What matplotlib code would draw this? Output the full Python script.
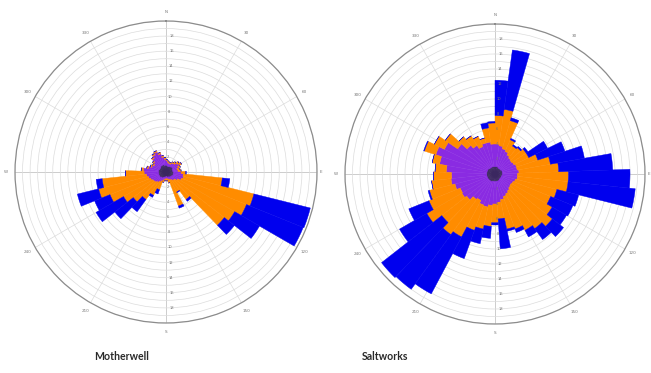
import numpy as np
import matplotlib
matplotlib.use("Agg")
import matplotlib.pyplot as plt

# Direction sectors: 45 sectors of 8 degrees, clockwise from north
sector_width = 8
sector_starts = np.arange(0, 360, sector_width)

station_names = ["Motherwell", "Saltworks"]
class_colors = ["#3b2760", "#8a2be2", "#ff8c00", "#0000ee"]

# Frequency (%) per direction sector for each wind-speed class
motherwell_calm = [0.9, 0.8, 0.8, 0.8, 0.9, 0.9, 1.0, 1.0, 0.9, 0.9, 0.9, 1.0, 1.0, 1.0, 1.0,
                   0.9, 0.9, 0.8, 0.8, 0.7, 0.7, 0.6, 0.6, 0.7, 0.7, 0.8, 0.9, 0.9, 1.0, 1.0,
                   1.0, 1.0, 1.0, 1.0, 1.0, 1.0, 0.9, 0.9, 0.9, 1.0, 1.0, 1.0, 1.0, 0.9, 0.9]
motherwell_light = [0.6, 0.5, 0.4, 0.4, 0.5, 0.6, 0.8, 1.0, 0.8, 0.6, 0.7, 1.0, 1.3, 1.4, 1.2,
                    0.9, 0.6, 0.6, 0.4, 0.4, 0.3, 0.3, 0.3, 0.3, 0.4, 0.5, 0.6, 0.8, 0.9, 1.0,
                    1.2, 1.4, 1.6, 1.9, 2.0, 1.4, 1.1, 0.9, 1.1, 1.4, 1.7, 1.9, 1.5, 1.1, 0.8]
motherwell_moderate = [0.2, 0.2, 0.2, 0.2, 0.2, 0.3, 0.3, 0.3, 0.3, 0.3, 0.4, 0.6, 5.2, 9.6, 9.3,
                       8.7, 8.3, 3.1, 1.8, 3.7, 0.5, 0.3, 0.2, 0.2, 0.3, 1.2, 2.0, 2.8, 3.6, 4.5,
                       5.8, 6.8, 5.9, 2.5, 0.3, 0.2, 0.2, 0.2, 0.2, 0.2, 0.2, 0.2, 0.2, 0.2, 0.2]
motherwell_strong = [0, 0, 0, 0, 0, 0, 0, 0, 0, 0, 0, 0.1, 1.0, 7.7, 8.1,
                     3.8, 1.7, 0.3, 0.1, 0.3, 0, 0, 0, 0, 0, 0.6, 0.3, 2.0, 3.1, 4.2,
                     2.2, 2.9, 0.8, 0, 0, 0, 0, 0, 0, 0, 0, 0, 0, 0, 0]

saltworks_calm = [1.0, 1.0, 1.0, 0.9, 0.9, 0.9, 0.9, 1.0, 1.0, 1.0, 1.0, 1.0, 1.0, 0.9, 0.9,
                  0.9, 0.9, 0.9, 1.0, 1.0, 1.0, 1.0, 1.0, 1.0, 1.0, 1.1, 1.1, 1.1, 1.1, 1.1,
                  1.1, 1.1, 1.1, 1.1, 1.1, 1.1, 1.1, 1.1, 1.1, 1.0, 1.0, 1.0, 1.0, 1.0, 1.0]
saltworks_light = [3.0, 2.8, 2.5, 2.4, 2.1, 1.9, 1.8, 1.8, 2.0, 2.0, 2.2, 2.0, 2.0, 1.9, 1.7,
                   1.6, 1.7, 1.9, 2.0, 2.2, 2.5, 2.8, 3.0, 3.2, 3.5, 3.3, 2.9, 3.1, 3.7, 4.0,
                   3.9, 4.4, 4.8, 4.7, 5.4, 6.4, 7.2, 6.4, 4.9, 4.0, 3.5, 3.0, 3.3, 3.3, 3.0]
saltworks_moderate = [3.8, 4.9, 3.9, 1.7, 1.4, 1.8, 2.3, 2.2, 3.0, 4.5, 5.3, 6.8, 6.8, 5.7, 5.4,
                      6.3, 7.1, 6.2, 5.5, 4.6, 4.0, 2.2, 2.5, 2.8, 3.0, 3.6, 5.5, 5.8, 4.2, 5.4,
                      4.5, 3.5, 2.6, 2.4, 1.5, 1.0, 1.6, 1.5, 2.0, 1.5, 1.5, 1.5, 0.7, 1.9, 2.8]
saltworks_strong = [4.7, 8.0, 0.4, 0.2, 0.2, 0.2, 0.3, 2.8, 3.8, 4.6, 7.2, 8.2, 9.0, 3.0, 3.2,
                    2.2, 1.9, 1.8, 1.0, 0.5, 0.3, 4.0, 0.3, 1.6, 2.0, 4.0, 8.6, 9.0, 10.2, 4.2,
                    2.9, 0.2, 0, 0, 0, 0, 0.1, 0, 0, 0, 0, 0, 0, 0.7, 0.2]

station_data = [
    [motherwell_calm, motherwell_light, motherwell_moderate, motherwell_strong],
    [saltworks_calm, saltworks_light, saltworks_moderate, saltworks_strong],
]

r_max = 20
ring_step = 1
direction_labels = ["N", "30", "60", "E", "120", "150", "S", "210", "240", "W", "300", "330"]

W, H = 651, 373
fig = plt.figure(figsize=(W / 100, H / 100), dpi=100)

# axes boxes: (centre x, centre y, radius) in pixels
boxes = [(166, 172, 151), (495, 174, 150)]
title_pos = [(122, 357), (385, 357)]

for (cx, cy, rad), classes, name, (tx, ty) in zip(boxes, station_data, station_names, title_pos):
    ax = fig.add_axes([(cx - rad) / W, (H - cy - rad) / H, 2 * rad / W, 2 * rad / H],
                      projection="polar")
    ax.set_theta_zero_location("N")
    ax.set_theta_direction(-1)
    ax.set_ylim(0, r_max)
    ax.set_axisbelow(True)

    ax.set_rticks(np.arange(ring_step, r_max + 0.01, ring_step))
    ax.set_yticklabels([])
    ax.set_thetagrids(np.arange(0, 360, 30), labels=[])
    ax.grid(True, color="#dcdcdc", linewidth=0.5)
    ax.spines["polar"].set_color("#8c8c8c")
    ax.spines["polar"].set_linewidth(0.9)

    # main compass axes
    for a in (0, 90, 180, 270):
        t = np.radians(a)
        ax.plot([t, t], [0, r_max], color="#a0a0a0", linewidth=0.6, zorder=0.5)

    theta = np.radians(sector_starts + sector_width / 2)
    width = np.radians(sector_width)
    bottom = np.zeros(len(sector_starts))
    for values, color in zip(classes, class_colors):
        values = np.asarray(values, dtype=float)
        ax.bar(theta, values, width=width, bottom=bottom, color=color,
               edgecolor=color, linewidth=0.3, zorder=2)
        bottom = bottom + values

    # radial value labels along the north-south axis
    for v in range(2, r_max, 2):
        ax.text(np.radians(1.5), v, str(v), fontsize=2.6, color="#777777",
                ha="left", va="center", zorder=3)
        ax.text(np.radians(178.5), v, str(v), fontsize=2.6, color="#777777",
                ha="left", va="center", zorder=3)

    # direction labels around the rim
    for a, lab in zip(range(0, 360, 30), direction_labels):
        r_lab = r_max * (1.025 if a == 90 else 1.06)
        ax.text(np.radians(a), r_lab, lab, fontsize=3, color="#777777",
                ha="center", va="center", clip_on=False)

    fig.text(tx / W, 1 - ty / H, name, ha="center", va="center", fontsize=7.6,
             fontweight="bold", color="#2a2a2a", family="Lato")

fig.savefig("out.png", dpi=100, facecolor="white")
